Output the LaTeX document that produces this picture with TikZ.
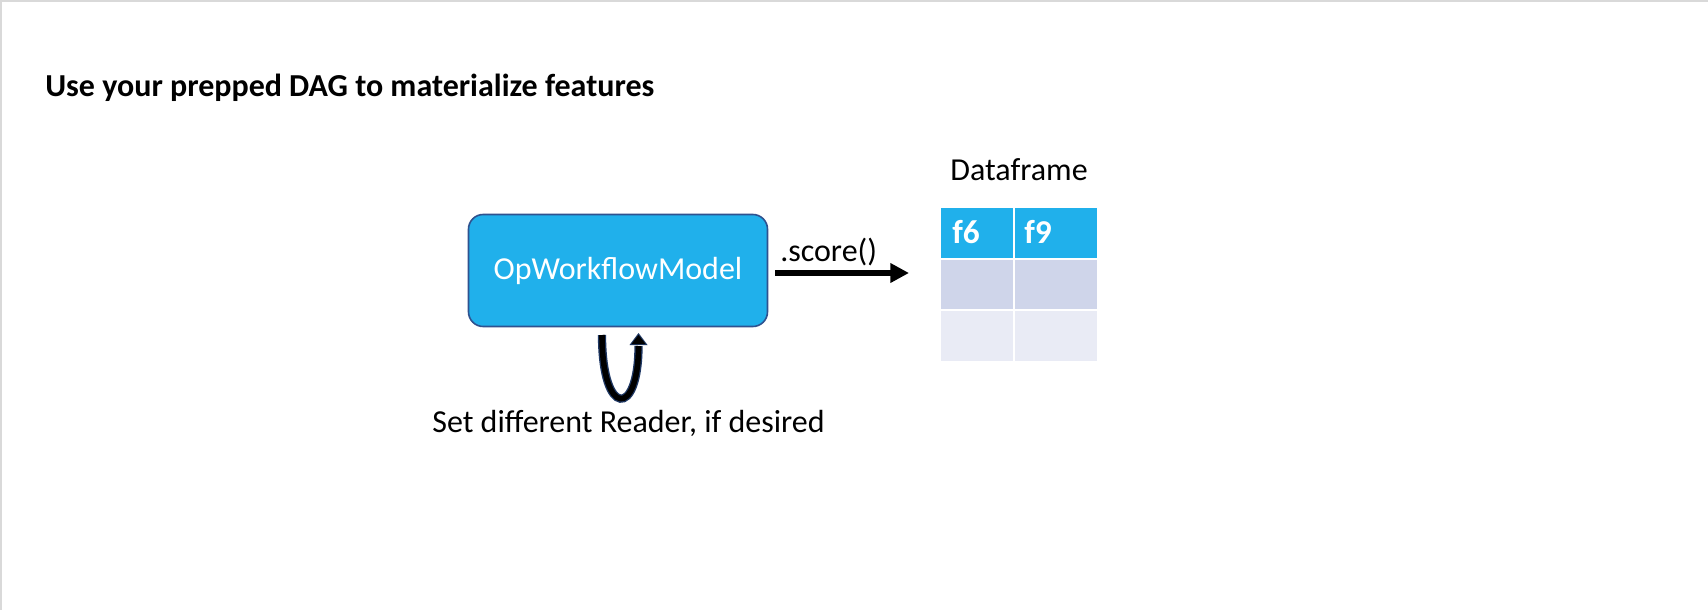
\documentclass[tikz,border=0pt]{standalone}
\usepackage{fontspec}
\setmainfont{Carlito}
\usetikzlibrary{arrows.meta}
\definecolor{boxblue}{HTML}{20B0EB}
\definecolor{boxedge}{HTML}{2F528F}
\definecolor{rowa}{HTML}{CFD5EA}
\definecolor{rowb}{HTML}{E9EBF5}
\definecolor{navy}{HTML}{1F3864}
\definecolor{framegrey}{HTML}{D9D9D9}
\tikzset{
  txt/.style={font=\fontsize{24}{28}\selectfont, inner sep=0pt},
  modelbox/.style={draw=boxedge, line width=1.2pt, fill=boxblue, rounded corners=11pt,
     text=white, font=\fontsize{24}{28}\selectfont},
  hdr/.style={text=white, font=\bfseries\fontsize{25}{28}\selectfont, inner sep=0pt, anchor=base west},
  flow/.style={line width=3.8pt, -{Triangle[length=14pt,width=14pt]}},
}
\begin{document}
\begin{tikzpicture}[x=0.75pt,y=-0.75pt]
\useasboundingbox (0,0) rectangle (1708,610);
\fill[white] (0,0) rectangle (1708,610);
\fill[framegrey] (0,0) rectangle (1708,2);
\fill[framegrey] (0,0) rectangle (2,610);

\node[txt, font=\bfseries\fontsize{24}{28}\selectfont, anchor=base west] (title) at (45,96) {Use your prepped DAG to materialize features};

\node[modelbox, minimum width=299*0.75pt, minimum height=112*0.75pt] (model) at (618,270.5) {OpWorkflowModel};

\coordinate (arrS) at (775,273);
\coordinate (arrE) at (909,273);
\draw[flow] (arrS) -- (arrE);
\node[txt, anchor=base west] (score) at (780,261) {.score()};

\node[txt, anchor=base] (dflabel) at (1019,180) {Dataframe};

% table
\fill[boxblue] (941,208) rectangle (1013,258);
\fill[boxblue] (1015,208) rectangle (1097,258);
\fill[rowa] (941,260) rectangle (1013,309);
\fill[rowa] (1015,260) rectangle (1097,309);
\fill[rowb] (941,311) rectangle (1013,361);
\fill[rowb] (1015,311) rectangle (1097,361);
\node[hdr] (f6) at (952,243) {f6};
\node[hdr] (f9) at (1024,243) {f9};

% loop arrow
\coordinate (loopS) at (602,335);
\coordinate (loopE) at (638.5,336);
\draw[navy, line width=6.2pt] (loopS) .. controls (602,418) and (638.5,418) .. (638.5,346);
\draw[black, line width=4.2pt] (loopS) .. controls (602,418) and (638.5,418) .. (638.5,346);
\fill[navy] (629.5,345) -- (638.5,333) -- (647.5,345) -- cycle;
\fill[black] (631.5,344) -- (638.5,335) -- (645.5,344) -- cycle;

\node[txt, anchor=base] (reader) at (628.5,432) {Set different Reader, if desired};
\end{tikzpicture}
\end{document}
